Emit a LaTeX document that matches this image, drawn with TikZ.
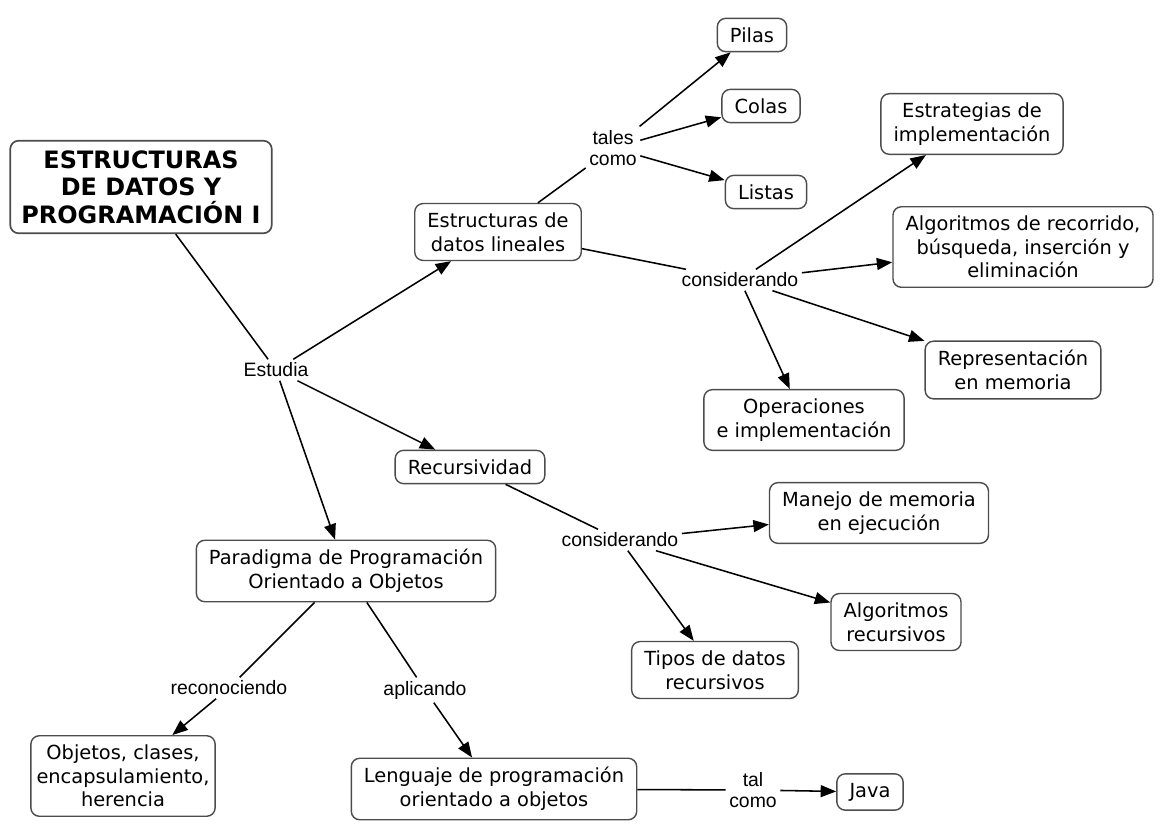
\documentclass[tikz,border=0pt]{standalone}
\usepackage{fontspec}
\setmainfont{DejaVu Sans}
\newfontfamily\linkfont{Liberation Sans}
\usetikzlibrary{arrows.meta}

\tikzset{
  concept/.style={draw=black!70, line width=1pt, rounded corners=6pt, fill=white,
    align=center, inner xsep=9pt, inner ysep=6.5pt, font=\fontsize{13.8}{16.8}\selectfont},
  titlebox/.style={concept, line width=1.2pt, inner xsep=8pt, inner ysep=7pt,
    font=\bfseries\fontsize{17}{19.5}\selectfont},
  link/.style={align=center, inner sep=2pt, font=\linkfont\fontsize{13.8}{15.5}\selectfont}
}

\begin{document}
\begin{tikzpicture}[x=0.025cm, y=-0.025cm, line width=1.1pt, >={Triangle[length=11pt,width=8.5pt]}]

        \useasboundingbox (0,0) rectangle (1160,829);
%        \draw[style=help lines, step=40] (0,0) grid (1160,829);

        \draw (141,187) node[titlebox] (edp) {ESTRUCTURAS\\DE DATOS Y\\PROGRAMACIÓN I};
        \draw (276,370) node[link] (estudia) {Estudia};

				\draw (498,232) node[concept] (lin) {Estructuras de\\datos lineales};
				\draw (613,148) node[link] (tales) {tales\\como};
				\draw (752,35) node[concept] (pilas) {Pilas};
				\draw (761,106) node[concept] (colas) {Colas};
				\draw (766,192) node[concept] (listas) {Listas};

				\draw (740,280) node[link] (cons1) {considerando};
				\draw (972,124) node[concept] (estrat) {Estrategias de\\implementación};
				\draw (1023,247) node[concept] (algo) {Algoritmos de recorrido,\\búsqueda, inserción y\\eliminación};
				\draw (1013,370) node[concept] (repr) {Representación\\en memoria};
				\draw (804,420) node[concept] (oper) {Operaciones\\e implementación};

				\draw (470,467) node[concept] (recur) {Recursividad};
				\draw (620,540) node[link] (cons2) {considerando};
				\draw (879,513) node[concept] (manejo) {Manejo de memoria\\en ejecución};
				\draw (896,622) node[concept] (algrec) {Algoritmos\\recursivos};
				\draw (715,670) node[concept] (tipos) {Tipos de datos\\recursivos};

				\draw (346,571) node[concept] (parad) {Paradigma de Programación\\Orientado a Objetos};
				\draw (229,688) node[link] (recon) {reconociendo};
				\draw (425,690) node[link] (aplic) {aplicando};
				\draw (123,776) node[concept, inner xsep=4pt] (objetos) {Objetos, clases,\\encapsulamiento,\\herencia};
				\draw (494,789) node[concept] (leng) {Lenguaje de programación\\orientado a objetos};
				\draw (753,790) node[link] (talcomo) {tal\\como};
				\draw (870,792) node[concept] (java) {Java};

				\draw (edp) -- (estudia);
				\draw[->] (estudia) -- (lin);
				\draw[->] (estudia) -- (recur);
				\draw[->] (estudia) -- (parad);

				\draw (lin) -- (tales);
				\draw[->] (tales) -- (pilas);
				\draw[->] (tales) -- (colas);
				\draw[->] (tales) -- (listas);

				\draw (lin) -- (cons1);
				\draw[->] (cons1) -- (estrat);
				\draw[->] (cons1) -- (algo);
				\draw[->] (cons1) -- (repr);
				\draw[->] (cons1) -- (oper);

				\draw (recur) -- (cons2);
				\draw[->] (cons2) -- (manejo);
				\draw[->] (cons2) -- (algrec);
				\draw[->] (cons2) -- (tipos);

				\draw (parad) -- (recon);
				\draw (parad) -- (aplic);
				\draw[->] (recon) -- (objetos);
				\draw[->] (aplic) -- (leng);
				\draw (leng) -- (talcomo);
				\draw[->] (talcomo) -- (java);

    \end{tikzpicture}
\end{document}
